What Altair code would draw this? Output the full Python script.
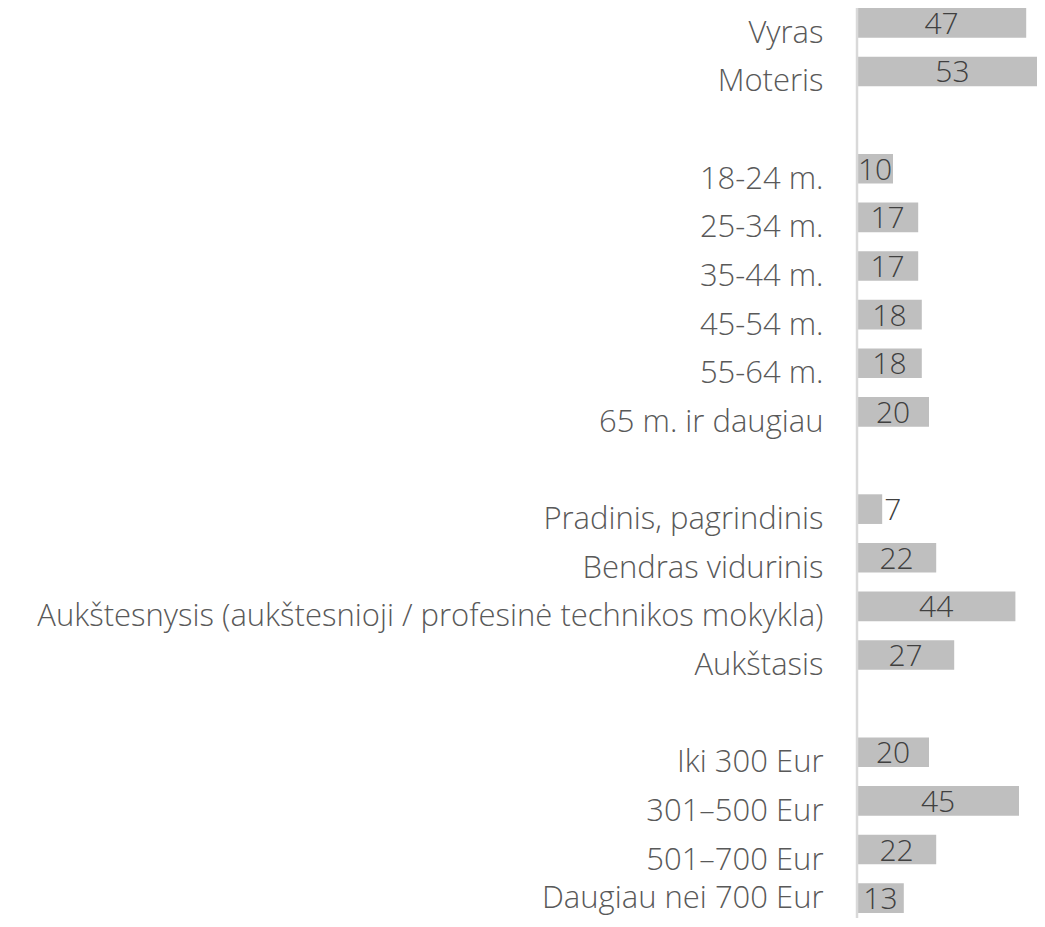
import altair as alt
import pandas as pd

gender = ["Vyras", "Moteris"]
gender_vals = [47, 53]
age = ["18-24 m.", "25-34 m.", "35-44 m.", "45-54 m.", "55-64 m.", "65 m. ir daugiau"]
age_vals = [10, 17, 17, 18, 18, 20]
edu = ["Pradinis, pagrindinis", "Bendras vidurinis",
       "Aukštesnysis (aukštesnioji / profesinė technikos mokykla)", "Aukštasis"]
edu_vals = [7, 22, 44, 27]
income = ["Iki 300 Eur", "301–500 Eur", "501–700 Eur", "Daugiau nei 700 Eur"]
income_vals = [20, 45, 22, 13]

groups = [(gender, gender_vals), (age, age_vals), (edu, edu_vals), (income, income_vals)]

rows = []
domain = []
for gi, (cats, vals) in enumerate(groups):
    if gi > 0:
        domain.append(" " * gi)
    for c, v in zip(cats, vals):
        rows.append({"cat": c, "val": v})
        domain.append(c)
df = pd.DataFrame(rows)

FONT = "Open Sans"
yscale = alt.Scale(domain=domain, paddingInner=0.39, paddingOuter=0)
ysort = domain

base = alt.Chart(df)

bars = base.mark_bar(color="#bfbfbf", clip=True).encode(
    x=alt.X("val:Q", scale=alt.Scale(domain=[0, 50]), axis=None),
    y=alt.Y("cat:N", scale=yscale, sort=ysort, title=None,
            axis=alt.Axis(domain=False, ticks=False, grid=False, labelPadding=34,
                          labelOffset={"condition": {"test": "datum.value === 'Daugiau nei 700 Eur'",
                                                     "value": 1}, "value": 11},
                          labelFontSize=31, labelFont=FONT,
                          labelFontWeight=300, labelColor="#595959", labelLimit=0)),
)

inside = base.transform_filter("datum.val >= 9").transform_calculate(
    mid="datum.val / 2").mark_text(
    font=FONT, fontSize=30, fontWeight=300, color="#404040", align="center",
    baseline="middle", dy=2).encode(
    x=alt.X("mid:Q"), y=alt.Y("cat:N", sort=ysort), text="val:Q")

outside = base.transform_filter("datum.val < 9").mark_text(
    font=FONT, fontSize=30, fontWeight=300, color="#404040", align="left",
    baseline="middle", dx=2, dy=2).encode(
    x=alt.X("val:Q"), y=alt.Y("cat:N", sort=ysort), text="val:Q")

axis_line = alt.Chart(pd.DataFrame({"a": [0]})).mark_rule(
    color="#d9d9d9", strokeWidth=2.5).encode(
    x=alt.value(0), y=alt.value(0), y2=alt.value(910))

chart = alt.layer(bars, inside, outside, axis_line).properties(
    width=180, height=905,
    autosize=alt.AutoSizeParams(type="none"),
    padding={"left": 849, "top": 0, "right": 0, "bottom": 5},
).configure_view(stroke=None)

chart.save("out.html", embed_options={"renderer": "svg", "actions": False})
